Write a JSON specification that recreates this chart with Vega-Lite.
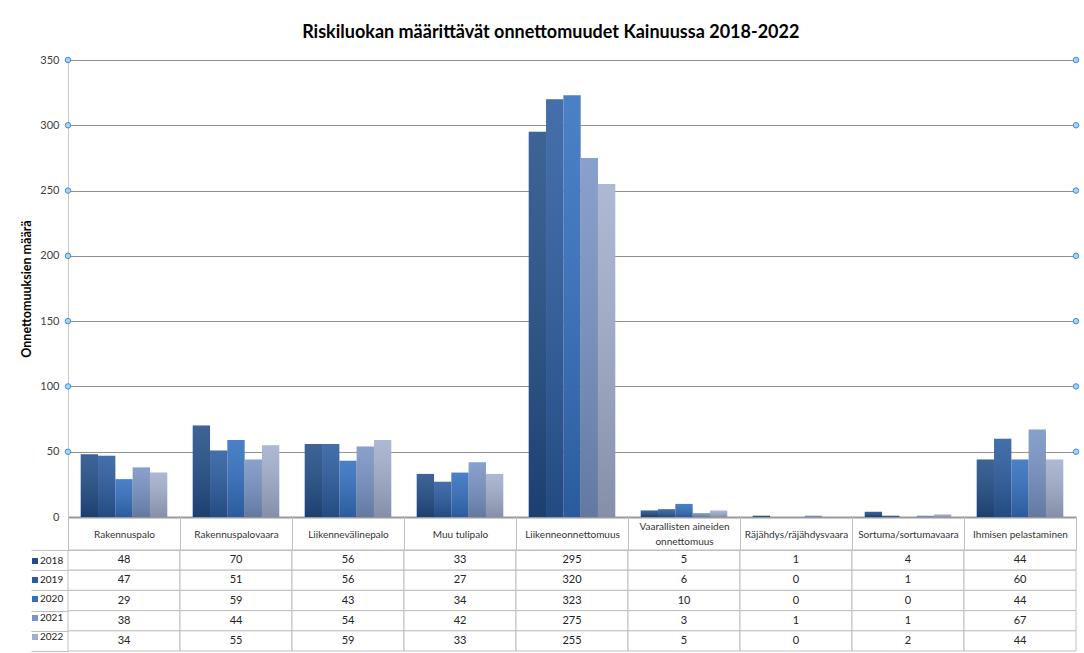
{
  "$schema": "https://vega.github.io/schema/vega-lite/v6.json",
  "background": "white",
  "padding": {"left": 20, "top": 24, "right": 5, "bottom": 0},
  "config": {"font": "Lato", "view": {"stroke": null}},
  "title": {"text": "Riskiluokan määrittävät onnettomuudet Kainuussa 2018-2022", "font": "Lato", "fontSize": 18, "fontWeight": "bold", "color": "#000000", "anchor": "middle", "offset": 12},
  "datasets": {
    "d": [
      {"cat": "Rakennuspalo", "year": "2018", "value": 48},
      {"cat": "Rakennuspalo", "year": "2019", "value": 47},
      {"cat": "Rakennuspalo", "year": "2020", "value": 29},
      {"cat": "Rakennuspalo", "year": "2021", "value": 38},
      {"cat": "Rakennuspalo", "year": "2022", "value": 34},
      {"cat": "Rakennuspalovaara", "year": "2018", "value": 70},
      {"cat": "Rakennuspalovaara", "year": "2019", "value": 51},
      {"cat": "Rakennuspalovaara", "year": "2020", "value": 59},
      {"cat": "Rakennuspalovaara", "year": "2021", "value": 44},
      {"cat": "Rakennuspalovaara", "year": "2022", "value": 55},
      {"cat": "Liikennevälinepalo", "year": "2018", "value": 56},
      {"cat": "Liikennevälinepalo", "year": "2019", "value": 56},
      {"cat": "Liikennevälinepalo", "year": "2020", "value": 43},
      {"cat": "Liikennevälinepalo", "year": "2021", "value": 54},
      {"cat": "Liikennevälinepalo", "year": "2022", "value": 59},
      {"cat": "Muu tulipalo", "year": "2018", "value": 33},
      {"cat": "Muu tulipalo", "year": "2019", "value": 27},
      {"cat": "Muu tulipalo", "year": "2020", "value": 34},
      {"cat": "Muu tulipalo", "year": "2021", "value": 42},
      {"cat": "Muu tulipalo", "year": "2022", "value": 33},
      {"cat": "Liikenneonnettomuus", "year": "2018", "value": 295},
      {"cat": "Liikenneonnettomuus", "year": "2019", "value": 320},
      {"cat": "Liikenneonnettomuus", "year": "2020", "value": 323},
      {"cat": "Liikenneonnettomuus", "year": "2021", "value": 275},
      {"cat": "Liikenneonnettomuus", "year": "2022", "value": 255},
      {"cat": "Vaarallisten aineiden onnettomuus", "year": "2018", "value": 5},
      {"cat": "Vaarallisten aineiden onnettomuus", "year": "2019", "value": 6},
      {"cat": "Vaarallisten aineiden onnettomuus", "year": "2020", "value": 10},
      {"cat": "Vaarallisten aineiden onnettomuus", "year": "2021", "value": 3},
      {"cat": "Vaarallisten aineiden onnettomuus", "year": "2022", "value": 5},
      {"cat": "Räjähdys/räjähdysvaara", "year": "2018", "value": 1},
      {"cat": "Räjähdys/räjähdysvaara", "year": "2019", "value": 0},
      {"cat": "Räjähdys/räjähdysvaara", "year": "2020", "value": 0},
      {"cat": "Räjähdys/räjähdysvaara", "year": "2021", "value": 1},
      {"cat": "Räjähdys/räjähdysvaara", "year": "2022", "value": 0},
      {"cat": "Sortuma/sortumavaara", "year": "2018", "value": 4},
      {"cat": "Sortuma/sortumavaara", "year": "2019", "value": 1},
      {"cat": "Sortuma/sortumavaara", "year": "2020", "value": 0},
      {"cat": "Sortuma/sortumavaara", "year": "2021", "value": 1},
      {"cat": "Sortuma/sortumavaara", "year": "2022", "value": 2},
      {"cat": "Ihmisen pelastaminen", "year": "2018", "value": 44},
      {"cat": "Ihmisen pelastaminen", "year": "2019", "value": 60},
      {"cat": "Ihmisen pelastaminen", "year": "2020", "value": 44},
      {"cat": "Ihmisen pelastaminen", "year": "2021", "value": 67},
      {"cat": "Ihmisen pelastaminen", "year": "2022", "value": 44}
    ],
    "ticks": [
      {"side": 0, "value": 50}, {"side": 0, "value": 100}, {"side": 0, "value": 150}, {"side": 0, "value": 200},
      {"side": 0, "value": 250}, {"side": 0, "value": 300}, {"side": 0, "value": 350},
      {"side": 1, "value": 50}, {"side": 1, "value": 100}, {"side": 1, "value": 150}, {"side": 1, "value": 200},
      {"side": 1, "value": 250}, {"side": 1, "value": 300}, {"side": 1, "value": 350}
    ]
  },
  "bounds": "flush",
  "spacing": 33,
  "vconcat": [
    {
      "width": 1008,
      "height": 457,
      "layer": [
        {
          "data": {"name": "d"},
          "mark": {"type": "bar"},
          "encoding": {
            "x": {"field": "cat", "type": "nominal", "sort": ["Rakennuspalo", "Rakennuspalovaara", "Liikennevälinepalo", "Muu tulipalo", "Liikenneonnettomuus", "Vaarallisten aineiden onnettomuus", "Räjähdys/räjähdysvaara", "Sortuma/sortumavaara", "Ihmisen pelastaminen"], "scale": {"paddingInner": 0, "paddingOuter": 0}, "axis": {"title": null, "labels": false, "ticks": false, "domain": true, "domainColor": "#9a9a9a", "domainWidth": 2, "grid": false}},
            "xOffset": {"field": "year", "type": "nominal", "scale": {"paddingInner": 0, "paddingOuter": 0.735}},
            "y": {"field": "value", "type": "quantitative", "scale": {"domain": [0, 350], "nice": false}, "axis": {"title": "Onnettomuuksien määrä", "titleFontSize": 12.5, "titleFontWeight": "bold", "titleColor": "#000000", "titlePadding": 6, "values": [0, 50, 100, 150, 200, 250, 300, 350], "grid": true, "gridColor": "#909090", "domain": true, "domainColor": "#c8c8c8", "ticks": false, "labelPadding": 9, "labelFontSize": 11, "labelColor": "#404040"}},
            "color": {"field": "year", "type": "nominal", "scale": {"range": ["#234d88", "#2a5b9e", "#336fbf", "#7893c4", "#a2afcc"]}, "legend": {"orient": "none", "legendX": -41, "legendY": 493, "title": null, "symbolType": "square", "symbolSize": 36, "symbolStrokeWidth": 0, "labelFontSize": 10, "labelColor": "#222222", "rowPadding": 9, "padding": 3, "labelOffset": 0, "symbolOffset": 0}}
          }
        },
        {
          "data": {"name": "d"},
          "mark": {"type": "bar", "fill": {"gradient": "linear", "x1": 0, "y1": 0, "x2": 0, "y2": 1, "stops": [{"offset": 0, "color": "rgba(255,255,255,0.12)"}, {"offset": 1, "color": "rgba(0,0,0,0.18)"}]}},
          "encoding": {
            "x": {"field": "cat", "type": "nominal", "sort": ["Rakennuspalo", "Rakennuspalovaara", "Liikennevälinepalo", "Muu tulipalo", "Liikenneonnettomuus", "Vaarallisten aineiden onnettomuus", "Räjähdys/räjähdysvaara", "Sortuma/sortumavaara", "Ihmisen pelastaminen"], "scale": {"paddingInner": 0, "paddingOuter": 0}, "axis": null},
            "xOffset": {"field": "year", "type": "nominal", "scale": {"paddingInner": 0, "paddingOuter": 0.735}},
            "y": {"field": "value", "type": "quantitative"}
          }
        },
        {
          "data": {"name": "ticks"},
          "mark": {"type": "point", "shape": "circle", "filled": true, "size": 30, "fill": "#a9d2f7", "stroke": "#3d8ee0", "strokeWidth": 1, "opacity": 1},
          "encoding": {
            "x": {"field": "side", "type": "quantitative", "scale": {"domain": [0, 1], "nice": false}, "axis": null},
            "y": {"field": "value", "type": "quantitative"}
          }
        }
      ],
      "resolve": {"scale": {"x": "independent"}}
    },
    {
      "width": 1008,
      "height": 101,
      "data": {"name": "d"},
      "encoding": {
        "x": {"field": "cat", "type": "nominal", "sort": ["Rakennuspalo", "Rakennuspalovaara", "Liikennevälinepalo", "Muu tulipalo", "Liikenneonnettomuus", "Vaarallisten aineiden onnettomuus", "Räjähdys/räjähdysvaara", "Sortuma/sortumavaara", "Ihmisen pelastaminen"], "scale": {"paddingInner": 0, "paddingOuter": 0}, "axis": {"orient": "top", "title": null, "domain": true, "domainColor": "#bfbfbf", "ticks": true, "tickBand": "extent", "tickSize": 33, "tickColor": "#bfbfbf", "labelAngle": 0, "labelFontSize": 10, "labelColor": "#333333", "labelPadding": -17, "labelBaseline": {"condition": {"test": "datum.value == 'Vaarallisten aineiden onnettomuus'", "value": "line-bottom"}, "value": "middle"}, "labelLimit": 0, "labelLineHeight": 15, "labelExpr": "datum.label == 'Vaarallisten aineiden onnettomuus' ? ['Vaarallisten aineiden', 'onnettomuus'] : datum.label"}},
        "y": {"field": "year", "type": "nominal", "scale": {"paddingInner": 0, "paddingOuter": 0}, "axis": {"title": null, "labels": false, "domain": false, "ticks": true, "tickBand": "extent", "tickSize": 37, "tickColor": "#bfbfbf"}}
      },
      "layer": [
        {"mark": {"type": "rect", "fill": "white", "stroke": "#bfbfbf", "strokeWidth": 1}},
        {"mark": {"type": "text", "fontSize": 11, "color": "#222222"}, "encoding": {"text": {"field": "value", "type": "quantitative"}}}
      ]
    }
  ],
  "resolve": {"scale": {"x": "independent", "y": "independent"}}
}
